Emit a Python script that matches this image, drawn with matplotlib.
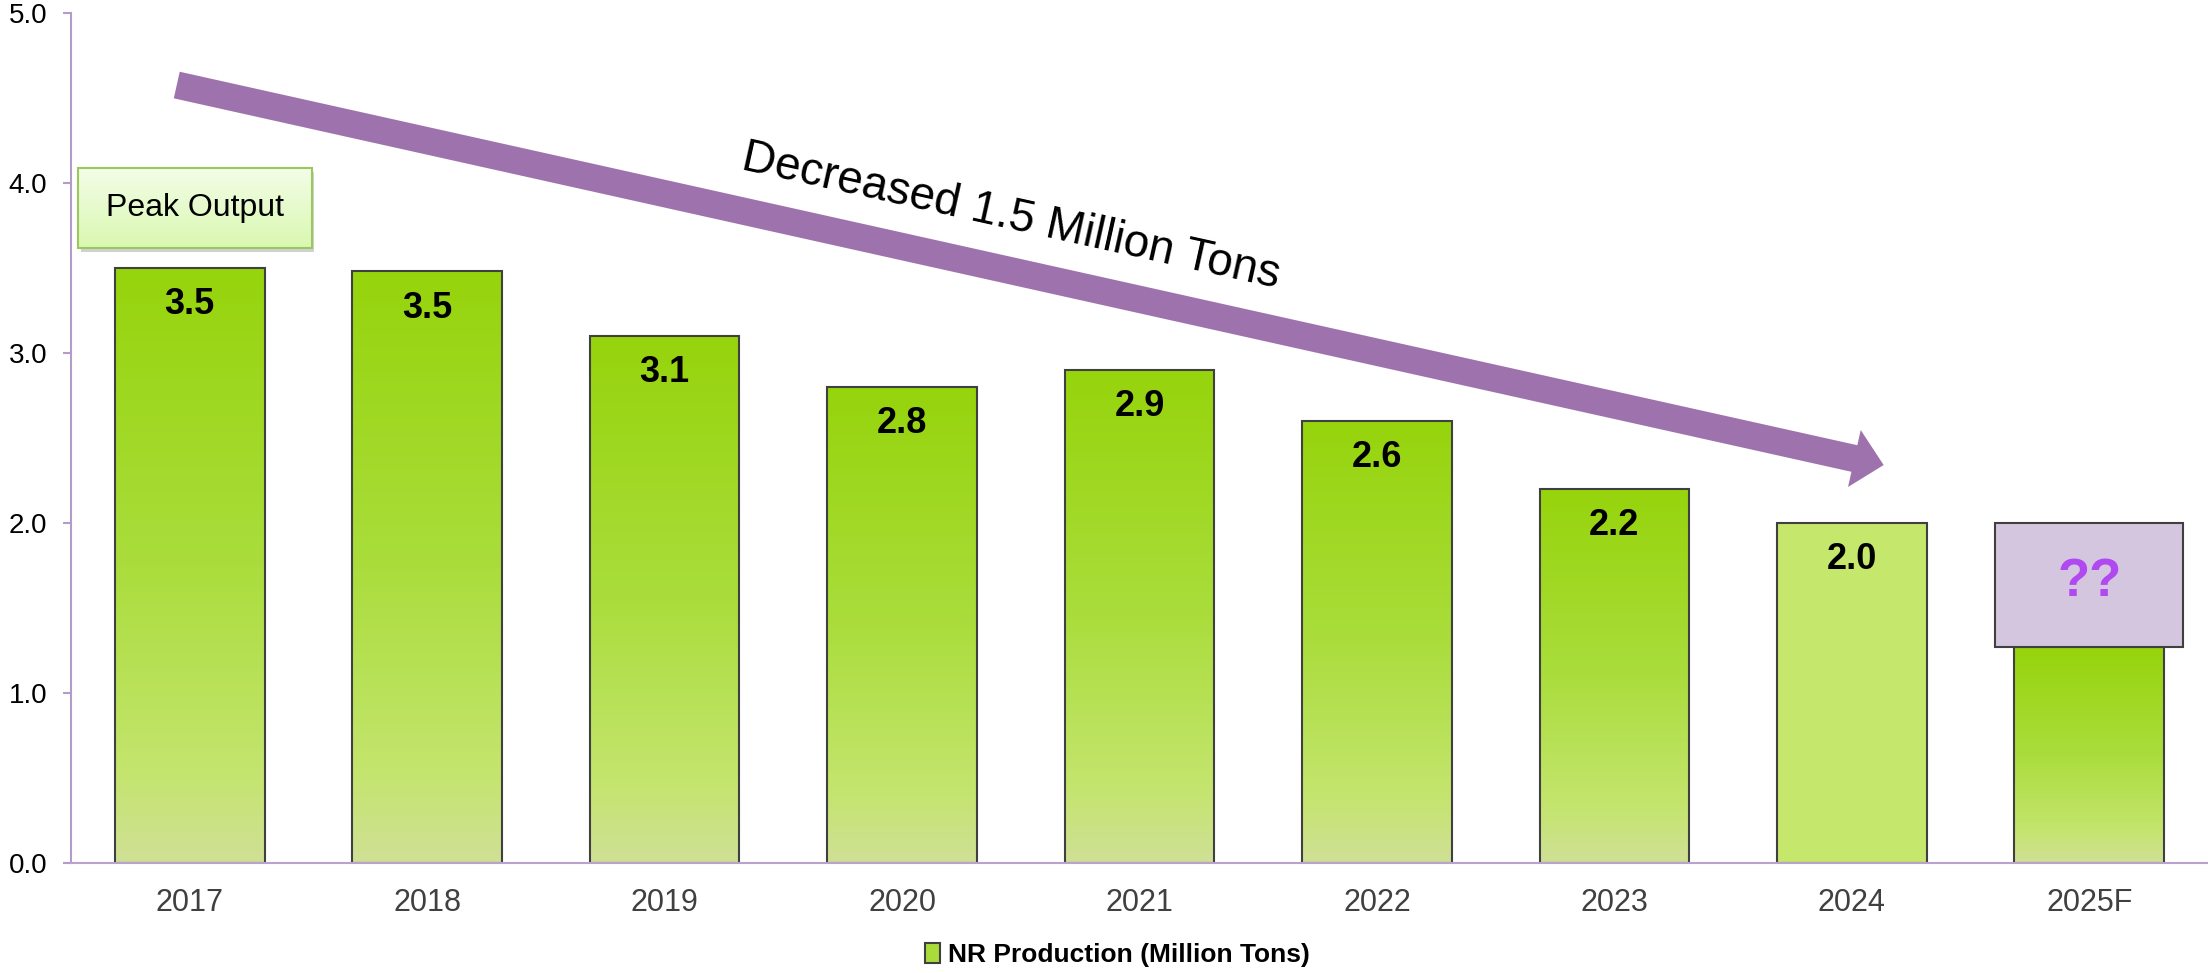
import matplotlib
matplotlib.use('Agg')
import matplotlib.pyplot as plt
import numpy as np
from matplotlib.colors import LinearSegmentedColormap
from matplotlib.patches import Rectangle, Patch, ArrowStyle

plt.rcParams['font.family'] = ['Liberation Sans', 'DejaVu Sans']

# data
years = ['2017', '2018', '2019', '2020', '2021', '2022', '2023', '2024', '2025F']
production = [3.5, 3.48, 3.1, 2.8, 2.9, 2.6, 2.2, 2.0]
value_labels = ['3.5', '3.5', '3.1', '2.8', '2.9', '2.6', '2.2', '2.0']
forecast_base = 1.27
forecast_top = 2.0
legend_label = 'NR Production (Million Tons)'

bar_w = 0.63
edge = '#404040'
green_cmap = LinearSegmentedColormap.from_list(
    'bar', [(0.0, '#96D40C'), (0.5, '#AADD3C'), (0.85, '#C4E56E'), (1.0, '#D0E096')])
peak_cmap = LinearSegmentedColormap.from_list('peak', ['#F3FDE8', '#D9F8B0'])
grad = np.linspace(0, 1, 256).reshape(-1, 1)

fig = plt.figure(figsize=(22.08, 9.73), dpi=100)
ax = fig.add_axes([0.0322, 0.113, 0.9678, 0.8737])


def gradient_bar(x, h, bottom=0.0, width=bar_w, cmap=green_cmap):
    rect = Rectangle((x - width / 2, bottom), width, h, facecolor='none',
                     edgecolor=edge, lw=1.5, zorder=3)
    ax.add_patch(rect)
    im = ax.imshow(grad, extent=[x - width / 2, x + width / 2, bottom, bottom + h],
                   aspect='auto', cmap=cmap, origin='upper', zorder=2)
    im.set_clip_path(rect)


for i, v in enumerate(production):
    if years[i] == '2024':
        ax.bar(i, v, width=bar_w, color='#C5E76C', edgecolor=edge, lw=1.5, zorder=3)
    else:
        gradient_bar(i, v)
    ax.annotate(value_labels[i], (i, v), xytext=(0, -26.5), textcoords='offset points',
                ha='center', va='center', fontsize=26, fontweight='bold', zorder=5)

# forecast bar
xf = len(production)
gradient_bar(xf, forecast_base)
ax.add_patch(Rectangle((xf - 0.395, forecast_base), 0.79, forecast_top - forecast_base,
                       facecolor='#D5C6E0', edgecolor=edge, lw=1.5, zorder=4))
ax.text(xf, (forecast_base + forecast_top) / 2 + 0.02, '??', ha='center', va='center',
        fontsize=38, fontweight='bold', color='#B04AF0', zorder=5)

# peak output box
px0, px1, py0, py1 = -0.471, 0.513, 3.62, 4.09
ax.add_patch(Rectangle((px0 + 0.012, py0 - 0.025), px1 - px0, py1 - py0,
                       facecolor='#000000', alpha=0.18, lw=0, zorder=3))
peak = Rectangle((px0, py0), px1 - px0, py1 - py0, facecolor='none',
                 edgecolor='#9CC65E', lw=1.5, zorder=5)
ax.add_patch(peak)
im = ax.imshow(grad, extent=[px0, px1, py0, py1], aspect='auto', cmap=peak_cmap,
               origin='upper', zorder=4)
im.set_clip_path(peak)
ax.text((px0 + px1) / 2, (py0 + py1) / 2, 'Peak Output', ha='center', va='center',
        fontsize=23, zorder=6)

# trend arrow
ax.annotate('', xy=(7.134, 2.341), xytext=(-0.055, 4.576),
            arrowprops=dict(arrowstyle=ArrowStyle.Simple(head_length=0.54, head_width=1.05,
                                                         tail_width=0.49),
                            mutation_scale=40, color='#9E72AD', lw=0,
                            shrinkA=0, shrinkB=0), zorder=4)
ax.text(3.46, 3.80, 'Decreased 1.5 Million Tons', rotation=-12.5, rotation_mode='anchor',
        ha='center', va='center', fontsize=33, zorder=6)

ax.set_xlim(-0.5, 8.5)
ax.set_ylim(0, 5)
ax.set_xticks(range(len(years)))
ax.set_xticklabels(years)
ax.set_yticks(np.arange(0, 5.1, 1.0))
ax.set_yticklabels([f'{t:.1f}' for t in np.arange(0, 5.1, 1.0)])
ax.tick_params(axis='x', length=0, pad=18, labelsize=22, labelcolor='#404040')
ax.tick_params(axis='y', length=6, width=1.5, color='#B49BC9', pad=11, labelsize=20)
for s in ['top', 'right']:
    ax.spines[s].set_visible(False)
ax.spines['left'].set_color('#B49BC9')
ax.spines['bottom'].set_color('#B9A3CC')
ax.spines['left'].set_linewidth(1.5)
ax.spines['bottom'].set_linewidth(1.5)
ax.spines['bottom'].set_zorder(6)

handle = Patch(facecolor='#A9DC3A', edgecolor=edge, lw=1.5)
fig.legend([handle], [legend_label], loc='center', bbox_to_anchor=(0.506, 0.0185),
           frameon=False, prop={'size': 19, 'weight': 'bold'},
           handlelength=0.55, handleheight=0.8, handletextpad=0.3)

fig.savefig('out.png', dpi=100)
